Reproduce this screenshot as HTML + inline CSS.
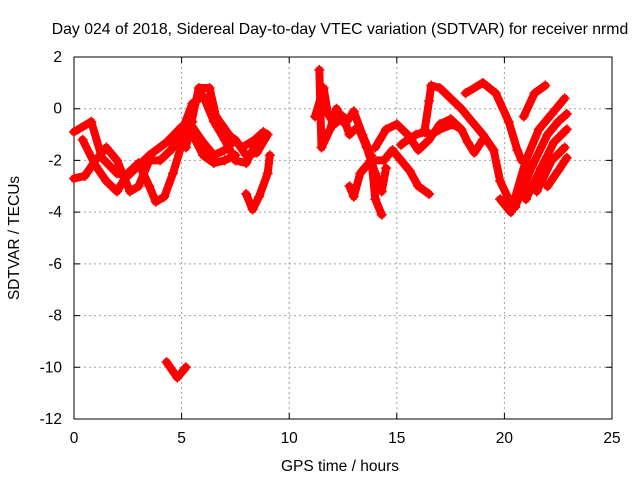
<!DOCTYPE html>
<html><head><meta charset="utf-8"><style>
body{margin:0;background:#fff}
svg text{font-family:"Liberation Sans",sans-serif;font-size:15.5px;fill:#000}
</style></head><body>
<svg id="chart" width="640" height="480">
<text x="340" y="34" text-anchor="middle" style="font-size:15.8px">Day 024 of 2018, Sidereal Day-to-day VTEC variation (SDTVAR) for receiver nrmd</text>
<g id="grid"></g>
<g id="axes"></g>
<g id="marks"></g>
<text x="340" y="471" text-anchor="middle">GPS time / hours</text>
<text transform="translate(19,238) rotate(-90)" text-anchor="middle">SDTVAR / TECUs</text>
</svg>
<script>
const xTicks=[0,5,10,15,20,25];
const yTicks=[2,0,-2,-4,-6,-8,-10,-12];
const trackA=[[0,-0.9],[0.8,-0.5],[1.3,-1.9],[2,-2.5],[2.5,-2.6],[3,-2.2],[3.5,-1.8],[4.3,-1.3],[5,-0.7],[5.5,-0.5]];
const trackB=[[0,-2.7],[0.5,-2.6],[1,-2.0],[1.5,-1.5],[2,-2.0],[2.6,-3.2],[3,-3.0],[3.5,-2.0],[4,-2.0],[4.5,-1.6],[5,-0.9],[5.5,0.2],[6,0.5],[6.5,-0.5],[7,-1.2],[7.5,-2.0],[8,-2.1],[8.5,-1.3]];
const trackC=[[0.4,-1.2],[1,-2.2],[1.5,-2.8],[2,-3.2],[2.5,-2.5],[3,-2.1],[3.5,-3.0],[3.8,-3.6],[4.2,-3.4],[4.6,-2.5],[5,-1.4],[5.5,-0.7],[6,-1.3],[6.5,-1.8],[7,-1.6],[7.5,-1.2],[8,-1.8],[8.5,-1.7],[9,-1.0]];
const trackD=[[5.2,-1.5],[5.8,0.8],[6.3,0.8],[6.6,-0.3],[7.2,-1.0],[7.8,-1.5],[8.4,-1.2],[8.8,-0.9]];
const trackE=[[4.5,-1.6],[5,-1.0],[5.5,-1.0],[6,-1.8],[6.5,-2.1],[7,-2.0],[7.5,-1.8]];
const trackF=[[8,-3.3],[8.3,-3.9],[8.6,-3.4],[9,-2.5],[9.1,-1.8]];
const trackG=[[4.3,-9.8],[4.8,-10.4],[5.2,-10.0]];
const trackH=[[11.2,-0.3],[11.6,0.8],[11.8,-0.2],[12.1,-0.6],[12.5,-0.3],[12.8,-1.0],[13.2,-0.7],[13.6,-1.5],[14,-2.5],[14.3,-3.2],[14.5,-2.3]];
const trackI=[[11.4,1.5],[11.5,-1.5],[11.9,-0.8],[12.2,0],[12.6,-0.6],[13,-0.1],[13.4,-1.0],[13.8,-1.8],[14.0,-3.5],[14.3,-4.1]];
const trackJ=[[12.8,-3.0],[13.0,-3.4],[13.3,-2.5],[13.8,-2.0],[14.4,-2.0],[14.8,-1.6],[15.2,-2.0],[15.6,-2.4],[16,-3.0],[16.5,-3.3]];
const trackK=[[14,-1.5],[14.5,-0.8],[15,-0.6],[15.5,-1.0],[16,-1.6],[16.5,-1.2],[17,-0.6],[17.5,-0.4],[18,-0.8],[18.3,-1.3],[18.6,-1.7],[19,-1.2]];
const trackL=[[15.2,-1.4],[15.5,-1.2],[15.9,-1.0],[16.3,-0.9],[16.6,-1.0],[17,-0.8],[17.6,-0.6],[18,-0.8]];
const trackM=[[16.3,-0.8],[16.5,0.3],[16.6,0.9],[17,0.8],[17.5,0.4],[18,0.0],[18.5,-0.5],[19,-1.0],[19.5,-1.6],[19.8,-2.8],[20.2,-3.5],[20.5,-3.8]];
const trackR=[[18.2,0.6],[19,1.0],[19.6,0.6],[20.2,-0.5],[20.6,-1.6],[20.8,-2.0]];
const trackQ=[[20.9,-0.3],[21.4,0.6],[21.9,0.9]];
const trackP1=[[19.8,-3.5],[20.3,-4.0],[21,-2.0],[21.6,-0.8],[22.2,-0.2],[22.8,0.4]];
const trackP2=[[20.5,-3.8],[21.3,-2.2],[22,-1.0],[22.5,-0.5],[22.9,-0.2]];
const trackP3=[[21,-3.5],[21.7,-2.3],[22.3,-1.3],[22.9,-0.8]];
const trackP4=[[21.5,-3.2],[22.2,-2.0],[22.8,-1.5]];
const trackP5=[[22,-3.0],[22.5,-2.4],[22.9,-1.9]];
const tracks=[trackA,trackB,trackC,trackD,trackE,trackF,trackG,trackH,trackI,trackJ,trackK,trackL,trackM,trackR,trackQ,trackP1,trackP2,trackP3,trackP4,trackP5];

const X0=74,X1=612,Y0=57,Y1=419;
const sx=v=>X0+(v-0)/(25-0)*(X1-X0);
const sy=v=>Y0+(2-v)/(2-(-12))*(Y1-Y0);
const NS='http://www.w3.org/2000/svg';
function mk(tag,at,parent){const e=document.createElementNS(NS,tag);for(const k in at)e.setAttribute(k,at[k]);parent.appendChild(e);return e;}
const grid=document.getElementById('grid'),axes=document.getElementById('axes'),marks=document.getElementById('marks');
xTicks.forEach(t=>{
  if(t>0&&t<25){const l=mk('line',{x1:sx(t),x2:sx(t),y1:Y0,y2:Y1,stroke:'#a0a0a0','stroke-dasharray':'2,3'},grid);
  
  }
  const tk=mk('path',{d:`M${sx(t)},${Y1}v-6M${sx(t)},${Y0}v6`,stroke:'#000'},axes);
  
  
  const tx=mk('text',{x:sx(t),y:Y1+24,'text-anchor':'middle'},axes);tx.textContent=t;
  
  
});
yTicks.forEach(t=>{
  if(t<2&&t>-12){const l=mk('line',{x1:X0,x2:X1,y1:sy(t),y2:sy(t),stroke:'#a0a0a0','stroke-dasharray':'2,3'},grid);
  
  }
  const tk=mk('path',{d:`M${X0},${sy(t)}h6M${X1},${sy(t)}h-6`,stroke:'#000'},axes);
  
  
  const tx=mk('text',{x:X0-12,y:sy(t)+5,'text-anchor':'end'},axes);tx.textContent=t;
  
  
});
const bd=mk('rect',{x:X0,y:Y0,width:X1-X0,height:Y1-Y0,fill:'none',stroke:'#000'},axes);


tracks.forEach(tr=>{
  const p=mk('polyline',{points:tr.map(d=>sx(d[0])+','+sy(d[1])).join(' '),fill:'none',stroke:'#ff0000','stroke-width':8,'stroke-linejoin':'round','stroke-linecap':'round'},marks);
  
  
  tr.forEach(d=>{
    const m=mk('path',{d:`M${sx(d[0])-5},${sy(d[1])}h10M${sx(d[0])},${sy(d[1])-5}v10`,stroke:'#ff0000','stroke-width':1.5},marks);
    
    
  });
});
</script>
</body></html>
